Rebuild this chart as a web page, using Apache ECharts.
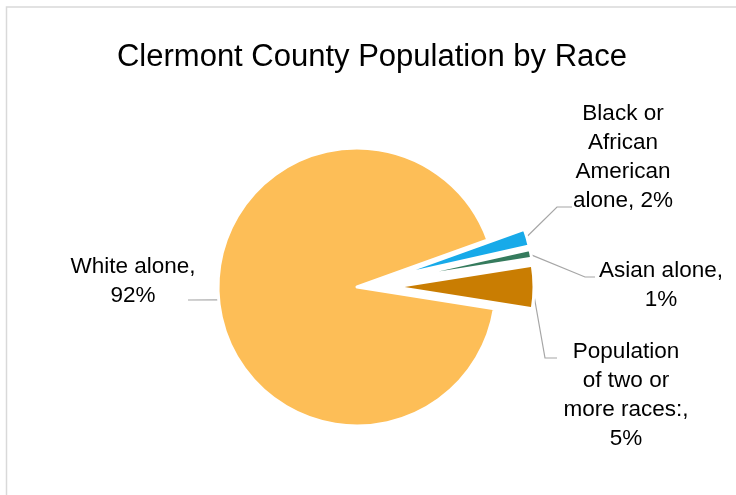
<!DOCTYPE html>
<html>
<head>
<meta charset="utf-8">
<script src="https://cdn.jsdelivr.net/npm/echarts@6/dist/echarts.min.js"></script>
<style>
  html, body { margin: 0; padding: 0; background: #ffffff; }
  #chart { width: 736px; height: 495px; }
</style>
</head>
<body>
<div id="chart"></div>
<script>
// Population share by race, Clermont County (percent)
const categories = [
  'White alone',
  'Black or African American alone',
  'Asian alone',
  'Population of two or more races:'
];
const shares = [92, 2, 1, 5];
// the small groups are pulled out of the pie
const exploded = [false, true, true, true];

// how each category name wraps inside its data label
const labelNames = [
  'White alone,',
  'Black or\nAfrican\nAmerican\nalone,',
  'Asian alone,',
  'Population\nof two or\nmore races:,'
];
const valueBreaks = ['\n', ' ', '\n', '\n'];

// pie geometry
const CENTER = [357, 287];
const RADIUS = 139;
const START_ANGLE = -9;     // degrees, counter-clockwise from 3 o'clock
const PULL_OUT = 38;        // distance the exploded slices are moved

// centre of each label block
const labelSpots = [
  [133, 281],
  [623, 157],
  [661, 285],
  [626, 395]
];
// leader-line elbow and end point for each label
const leaderBends = [
  [[188, 300]],
  [[557, 207], [572, 207]],
  [[585, 277], [595, 277]],
  [[545, 358], [557, 358]]
];

const FONT = '"Liberation Sans", Arial, sans-serif';

// point on the outer rim at the middle of a slice (after any pull-out)
function rimMidPoint(i) {
  const total = shares.reduce((a, b) => a + b, 0);
  let before = 0;
  for (let k = 0; k < i; k++) before += shares[k];
  const mid = START_ANGLE - (before + shares[i] / 2) / total * 360;
  const rad = mid * Math.PI / 180;
  const dist = RADIUS - 1.5 + (exploded[i] ? PULL_OUT : 0);
  return [CENTER[0] + dist * Math.cos(rad), CENTER[1] - dist * Math.sin(rad)];
}

const pieData = categories.map((name, i) => ({ name: name, value: shares[i] }));

const chart = echarts.init(document.getElementById('chart'), null, { renderer: 'canvas' });

chart.setOption({
  animation: false,
  backgroundColor: '#ffffff',
  color: ['#FDBE57', '#17AAE9', '#357B5D', '#C97D02'],
  title: {
    text: 'Clermont County Population by Race',
    left: 367,
    top: 37,
    textAlign: 'center',
    textStyle: {
      fontFamily: FONT,
      fontSize: 31,
      fontWeight: 'normal',
      color: '#000000'
    }
  },
  graphic: [{
    type: 'rect',
    silent: true,
    shape: { x: 6.5, y: 7, width: 900, height: 700 },
    style: { fill: 'none', stroke: '#d9d9d9', lineWidth: 1.5 }
  }],
  series: [
    {
      // the slices
      type: 'pie',
      center: CENTER,
      radius: RADIUS,
      startAngle: START_ANGLE,
      clockwise: true,
      selectedMode: 'multiple',
      selectedOffset: PULL_OUT,
      silent: true,
      itemStyle: { borderColor: '#ffffff', borderWidth: 3 },
      emphasis: { disabled: true },
      select: { itemStyle: { borderColor: '#ffffff', borderWidth: 3 } },
      label: { show: false },
      labelLine: { show: false },
      data: pieData.map((d, i) => Object.assign({}, d, { selected: exploded[i] }))
    },
    {
      // data labels with leader lines
      type: 'pie',
      center: CENTER,
      radius: RADIUS,
      startAngle: START_ANGLE,
      clockwise: true,
      silent: true,
      selectedMode: false,
      avoidLabelOverlap: false,
      itemStyle: { color: 'rgba(0,0,0,0)', borderWidth: 0 },
      emphasis: { disabled: true },
      label: {
        show: true,
        position: 'outside',
        fontFamily: FONT,
        fontSize: 22.5,
        lineHeight: 29,
        color: '#000000',
        align: 'center',
        formatter: p => labelNames[p.dataIndex] + valueBreaks[p.dataIndex] + Math.round(p.percent) + '%'
      },
      labelLine: {
        show: true,
        lineStyle: { color: '#a6a6a6', width: 1.2 }
      },
      labelLayout: p => {
        const i = p.dataIndex;
        const s = labelSpots[i];
        return {
          x: s[0],
          y: s[1],
          align: 'center',
          verticalAlign: 'middle',
          labelLinePoints: [rimMidPoint(i)].concat(leaderBends[i])
        };
      },
      data: pieData
    }
  ]
});
</script>
</body>
</html>
